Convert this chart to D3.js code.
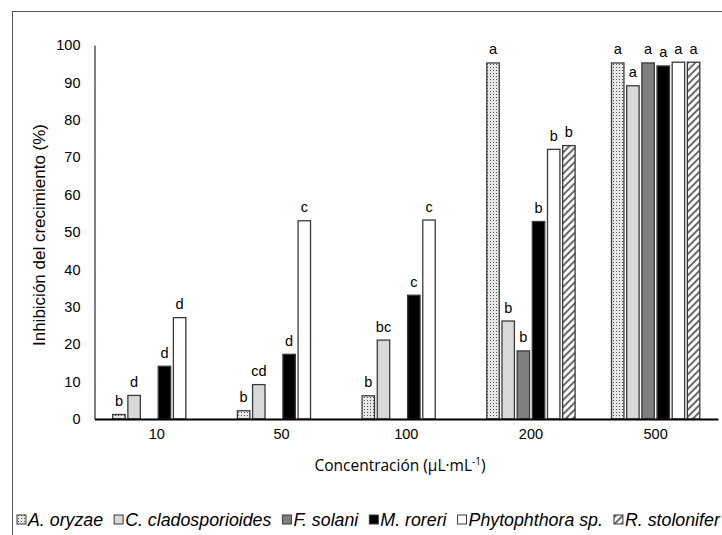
<!DOCTYPE html>
<html>
<head>
<meta charset="utf-8">
<script src="https://cdn.jsdelivr.net/npm/d3@7"></script>
<style>
  body { margin: 0; background: #fff; }
  svg { display: block; }
</style>
</head>
<body>
<svg id="chart" width="722" height="535"></svg>
<script>
// concentrations (µL·mL-1) and fungi
const concentrations = ['10', '50', '100', '200', '500'];
const species = ['A. oryzae', 'C. cladosporioides', 'F. solani', 'M. roreri', 'Phytophthora sp.', 'R. stolonifer'];

// inhibition (%) per species, in order of concentrations; null = no bar
const aOryzae = [1.2, 2.2, 6.2, 95.2, 95.2];
const cClado = [6.3, 9.2, 21.1, 26.2, 89.1];
const fSolani = [null, null, null, 18.2, 95.2];
const mRoreri = [14.1, 17.3, 33.1, 52.8, 94.4];
const phytophthora = [27.1, 53.0, 53.2, 72.1, 95.4];
const rStolonifer = [null, null, null, 73.1, 95.4];

// significance letters
const lettersA = ['b', 'b', 'b', 'a', 'a'];
const lettersC = ['d', 'cd', 'bc', 'b', 'a'];
const lettersF = ['', '', '', 'b', 'a'];
const lettersM = ['d', 'd', 'c', 'b', 'a'];
const lettersP = ['d', 'c', 'c', 'b', 'a'];
const lettersR = ['', '', '', 'b', 'a'];

const yTicks = [0, 10, 20, 30, 40, 50, 60, 70, 80, 90, 100];

const seriesValues = [aOryzae, cClado, fSolani, mRoreri, phytophthora, rStolonifer];
const seriesLetters = [lettersA, lettersC, lettersF, lettersM, lettersP, lettersR];

const svg = d3.select('#chart');
const defs = svg.append('defs');

// fill patterns, roughly the Excel ones
const dots = defs.append('pattern')
  .attr('id', 'p-dots')
  .attr('patternUnits', 'userSpaceOnUse')
  .attr('width', 3).attr('height', 3);
dots.append('rect').attr('width', 3).attr('height', 3).attr('fill', '#e8e8e8');
dots.append('rect').attr('x', 1).attr('y', 1).attr('width', 1).attr('height', 1).attr('fill', '#555');

const stripes = defs.append('pattern')
  .attr('id', 'p-stripes')
  .attr('patternUnits', 'userSpaceOnUse')
  .attr('width', 5).attr('height', 5)
  .attr('patternTransform', 'rotate(45)');
stripes.append('rect').attr('width', 5).attr('height', 5).attr('fill', '#fff');
stripes.append('rect').attr('width', 2).attr('height', 5).attr('fill', '#6a6a6a');

const fills = ['url(#p-dots)', '#d9d9d9', '#7f7f7f', '#000', '#fff', 'url(#p-stripes)'];

// outer frame (cut off on the right and bottom)
svg.append('rect')
  .attr('x', 12.5).attr('y', 11.5)
  .attr('width', 760).attr('height', 600)
  .attr('fill', 'none')
  .attr('stroke', '#555')
  .attr('stroke-width', 1);

const plot = { left: 94.5, right: 718, top: 45, bottom: 419 };

const x0 = d3.scaleBand()
  .domain(concentrations)
  .range([plot.left, plot.right])
  .paddingInner(0.27)
  .paddingOuter(0.135);

const x1 = d3.scaleBand()
  .domain(d3.range(species.length))
  .range([0, x0.bandwidth()])
  .paddingInner(0.18)
  .paddingOuter(0.09);

const y = d3.scaleLinear()
  .domain([0, 100])
  .range([plot.bottom, plot.top]);

// y axis: line with labels only
const yAxis = svg.append('g')
  .attr('transform', `translate(${plot.left},0)`)
  .call(d3.axisLeft(y).tickValues(yTicks).tickSize(0).tickPadding(14));
yAxis.select('.domain').attr('stroke', '#000').attr('stroke-width', 1);
yAxis.selectAll('text')
  .attr('font-family', 'Liberation Sans, Arial, sans-serif')
  .attr('font-size', '14.5px')
  .attr('fill', '#000');

// bars
const rows = [];
seriesValues.forEach((vals, s) => {
  vals.forEach((v, c) => {
    if (v !== null) rows.push({ s, c, v, letter: seriesLetters[s][c] });
  });
});

const bars = svg.append('g');
bars.selectAll('rect')
  .data(rows)
  .enter().append('rect')
  .attr('x', d => x0(concentrations[d.c]) + x1(d.s))
  .attr('y', d => y(d.v))
  .attr('width', x1.bandwidth())
  .attr('height', d => y(0) - y(d.v))
  .attr('fill', d => fills[d.s])
  .attr('stroke', '#3a3a3a')
  .attr('stroke-width', 1.3);

bars.selectAll('text')
  .data(rows.filter(d => d.letter))
  .enter().append('text')
  .attr('x', d => x0(concentrations[d.c]) + x1(d.s) + x1.bandwidth() / 2)
  .attr('y', d => y(d.v) - 8.5)
  .attr('text-anchor', 'middle')
  .attr('font-family', 'Liberation Sans, Arial, sans-serif')
  .attr('font-size', '14.5px')
  .text(d => d.letter);

// x axis
const xAxis = svg.append('g')
  .attr('transform', `translate(0,${plot.bottom})`)
  .call(d3.axisBottom(x0).tickSize(0).tickPadding(10));
xAxis.select('.domain').attr('stroke', '#000').attr('stroke-width', 2);
xAxis.selectAll('text')
  .attr('font-family', 'Liberation Sans, Arial, sans-serif')
  .attr('font-size', '14.5px')
  .attr('fill', '#000');

// axis titles
svg.append('text')
  .attr('transform', 'translate(45,235) rotate(-90)')
  .attr('text-anchor', 'middle')
  .attr('font-family', 'Liberation Sans, Arial, sans-serif')
  .attr('font-size', '17px')
  .text('Inhibición del crecimiento (%)');

const xTitle = svg.append('text')
  .attr('x', 400)
  .attr('y', 471)
  .attr('text-anchor', 'middle')
  .attr('font-family', 'Open Sans, sans-serif')
  .attr('font-size', '15.5px');
xTitle.append('tspan').text('Concentración (µL·mL');
xTitle.append('tspan').attr('dy', -6).attr('font-size', '10px').text('-1');
xTitle.append('tspan').attr('dy', 6).text(')');

// legend along the bottom
const legend = svg.append('g').attr('transform', 'translate(17,526)');
let lx = 0;
species.forEach((name, i) => {
  legend.append('rect')
    .attr('x', lx).attr('y', -11)
    .attr('width', 9).attr('height', 9)
    .attr('fill', fills[i])
    .attr('stroke', '#3a3a3a')
    .attr('stroke-width', 1);
  const t = legend.append('text')
    .attr('x', lx + 11)
    .attr('y', 0)
    .attr('font-family', 'Liberation Sans, Arial, sans-serif')
    .attr('font-size', '17.8px')
    .attr('font-style', 'italic')
    .text(name);
  lx += 11 + t.node().getComputedTextLength() + 11;
});
</script>
</body>
</html>
